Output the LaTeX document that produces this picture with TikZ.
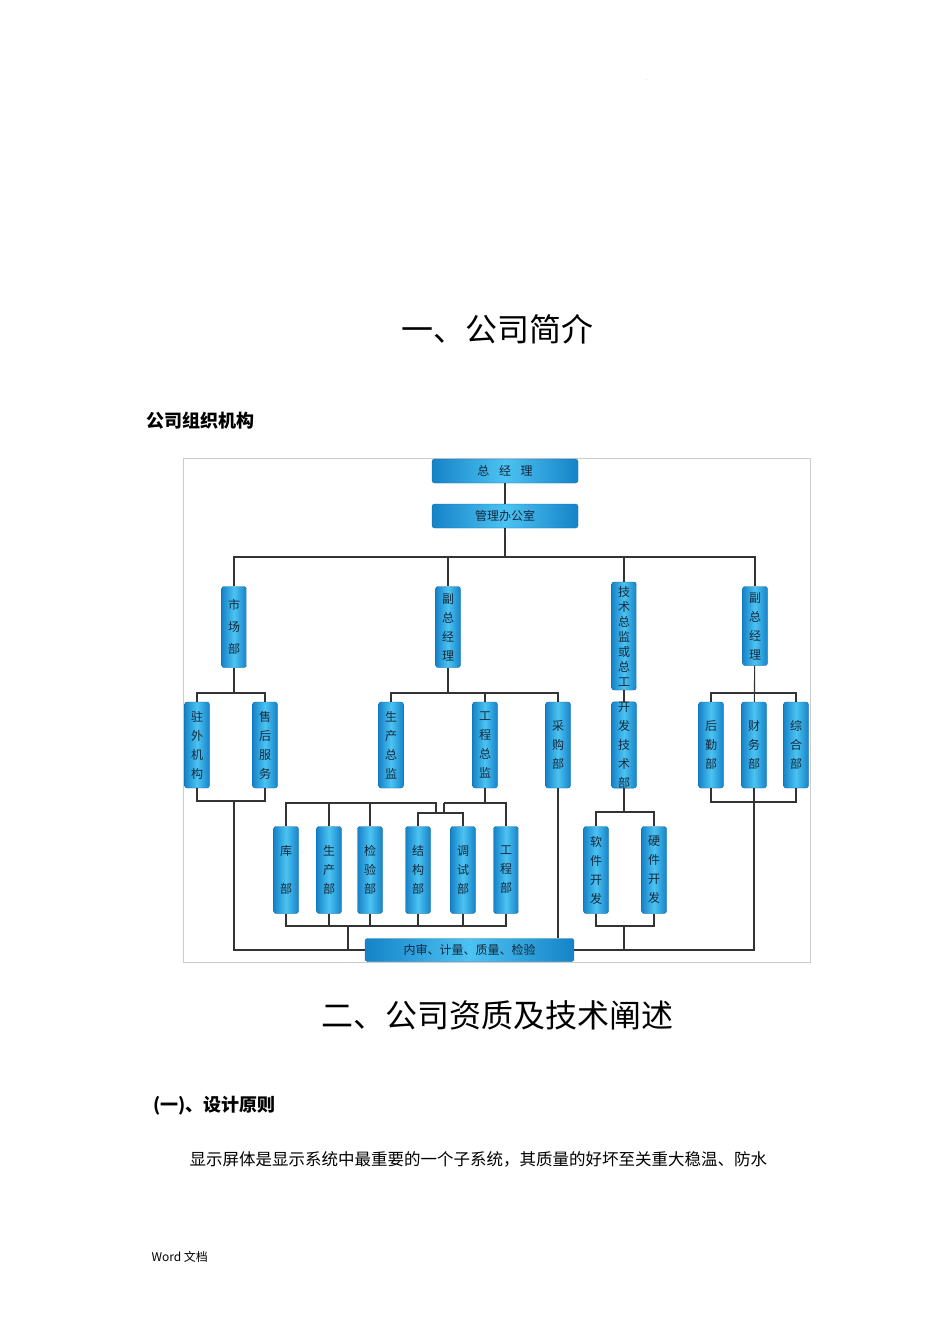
\documentclass[tikz,border=0pt]{standalone}
\usepackage{fontspec}
\setmainfont{Noto Sans CJK SC}
\begin{document}
\begin{tikzpicture}[x=1pt,y=-1pt,
  bx/.style={rounded corners=2.5pt,left color=blue1,right color=blue1,middle color=blue2,draw=blue1!80!black,line width=0.3pt,inner sep=0pt,text=txt,font=\fontsize{12}{14}\selectfont,align=center},
  vb/.style={bx,minimum width=25pt},
  hb/.style={bx,minimum width=146pt,minimum height=24pt},
  ln/.style={draw=black!80,line width=1.1pt},
]
\definecolor{blue1}{HTML}{1583C8}
\definecolor{blue2}{HTML}{4CC3F2}
\definecolor{txt}{HTML}{15263A}
\useasboundingbox (0,0) rectangle (950,1344);
\fill[white] (0,0) rectangle (950,1344);
\node[font=\fontsize{4}{4}\selectfont] (dot) at (647,80) {.};
\node[font=\fontsize{32}{36}\selectfont] (t1) at (497,329) {一、公司简介};
\node[font=\fontsize{18}{20}\selectfont\bfseries,anchor=west] (t2) at (143,421) {公司组织机构};
\draw[black!20,line width=0.8pt] (183,458) rectangle (810,962);
% top
\node[hb,font=\fontsize{12}{14}\selectfont] (zjl) at (505,471) {总\hspace{0.8em}经\hspace{0.8em}理};
\node[hb] (gl) at (505,516) {管理办公室};
% level2
\def\vs#1{\fontsize{12}{#1}\selectfont}
\node[vb,minimum height=81pt,font=\vs{22}] (sc) at (234,627) {市\\场\\部};
\node[vb,minimum height=81pt,font=\vs{19}] (fz1) at (448,627) {副\\总\\经\\理};
\node[vb,minimum height=108pt,font=\vs{15}] (js) at (624,636) {技\\术\\总\\监\\或\\总\\工};
\node[vb,minimum height=79pt,font=\vs{19}] (fz2) at (755,626) {副\\总\\经\\理};
% level3
\foreach \n/\x/\t in {zw/197/{驻\\外\\机\\构},sh/265/{售\\后\\服\\务},sczj/391/{生\\产\\总\\监},gczj/485/{工\\程\\总\\监},cg/558/{采\\购\\部},kf/624/{开\\发\\技\\术\\部},hq/711/{后\\勤\\部},cw/754/{财\\务\\部},zh/796/{综\\合\\部}}
  \node[vb,minimum height=86pt,font=\vs{19}] (\n) at (\x,745) {\t};
% level4
\foreach \n/\x/\t in {kb/286/{库\\\\部},scb/329/{生\\产\\部},jyb/370/{检\\验\\部},jgb/418/{结\\构\\部},tsb/463/{调\\试\\部},gcb/506/{工\\程\\部},rj/596/{软\\件\\开\\发},yj/654/{硬\\件\\开\\发}}
  \node[vb,minimum height=87pt,font=\vs{19}] (\n) at (\x,870) {\t};
\node[hb,minimum width=209pt,minimum height=23pt] (ns) at (469.5,950) {内审、计量、质量、检验};
% connectors
\draw[ln] (zjl) -- (gl);
\coordinate (bus) at (505,557);
\draw[ln] (gl) -- (bus);
\draw[ln] (sc.north) |- (bus) -| (fz2.north);
\draw[ln] (fz1.north) |- (bus);
\draw[ln] (js.north) |- (bus);
\coordinate (c1) at (234,693);
\draw[ln] (sc) -- (c1); \draw[ln] (zw.north) |- (c1) -| (sh.north);
\coordinate (c2) at (448,693);
\draw[ln] (fz1) -- (c2); \draw[ln] (sczj.north) |- (c2) -| (cg.north); \draw[ln] (gczj.north) -- (485,693);
\draw[ln] (js) -- (kf);
\coordinate (c3) at (754,693);
\draw[ln] (fz2) -- (cw); \draw[ln] (hq.north) |- (c3) -| (zh.north);
% 驻外/售后 join
\coordinate (c4) at (234,801);
\draw[ln] (zw.south) |- (c4) -| (sh.south);
\draw[ln] (c4) |- (ns.west);
% 工程总监 tree
\coordinate (c5) at (444,803);
\draw[ln] (gczj.south) |- (c5);
\draw[ln] (c5) -| (gcb.north);
\draw[ln] (c5) -- (444,813);
\draw[ln] (jgb.north) |- (444,813) -| (tsb.north);
\draw[ln] (kb.north) |- (436,803) -- (436,813);
\draw[ln] (scb.north) -- (329,803);
\draw[ln] (jyb.north) -- (370,803);
\draw[ln] (kb.south) |- (gcb.south |- 0,926) -- (gcb.south);
\foreach \n in {scb,jyb,jgb,tsb} \draw[ln] (\n.south) -- (\n.south |- 0,926);
\draw[ln] (348,926) -- (348,950);
\draw[ln] (cg.south) -- (cg.south |- ns.north);
% software
\coordinate (c6) at (624,812);
\draw[ln] (kf.south) -- (c6);
\draw[ln] (rj.north) |- (c6) -| (yj.north);
\coordinate (c7) at (624,926);
\draw[ln] (rj.south) |- (c7) -| (yj.south);
\draw[ln] (c7) -- (624,950);
\coordinate (c8) at (754,802);
\draw[ln] (hq.south) |- (c8) -| (zh.south);
\draw[ln] (cw.south) -- (c8);
\draw[ln] (ns.east) -| (c8);
% lower text
\node[font=\fontsize{32}{36}\selectfont] (t3) at (497,1015) {二、公司资质及技术阐述};
\node[font=\fontsize{18}{20}\selectfont\bfseries,anchor=west] (t4) at (150,1106) {(一)、设计原则};
\node[font=\fontsize{16.5}{20}\selectfont,anchor=west] (t5) at (186,1159) {显示屏体是显示系统中最重要的一个子系统，其质量的好坏至关重大稳温、防水};
\node[font=\fontsize{12}{14}\selectfont,anchor=west] (t6) at (148,1257) {Word 文档};
\end{tikzpicture}
\end{document}
